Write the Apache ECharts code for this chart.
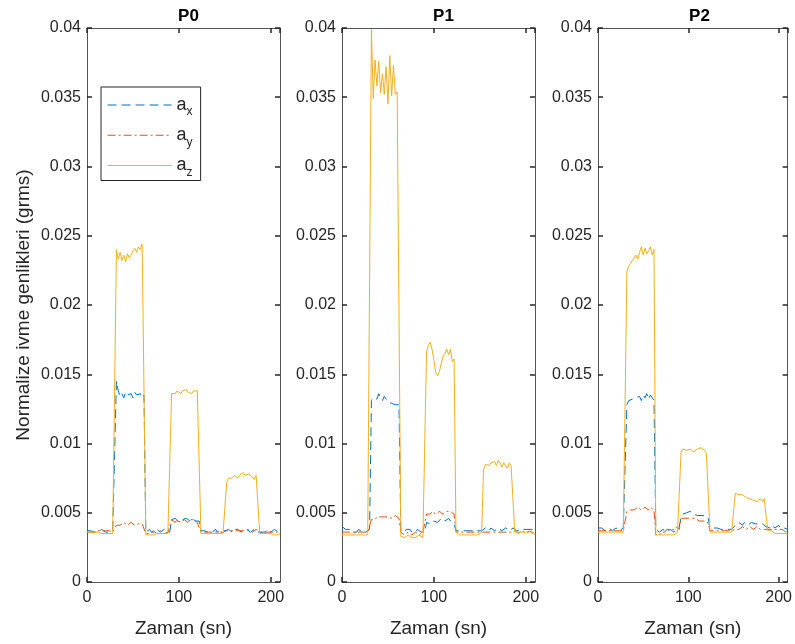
<!DOCTYPE html>
<html>
<head>
<meta charset="utf-8">
<script src="https://cdn.jsdelivr.net/npm/echarts@6/dist/echarts.min.js"></script>
<style>
  html, body { margin: 0; padding: 0; background: #fff; }
  #chart { width: 795px; height: 644px; }
</style>
</head>
<body>
<div id="chart"></div>
<script>
// time axis, seconds (2 s sampling)
const time = [
  0, 2, 4, 6, 8, 10, 12, 14, 16, 18, 20, 22, 24, 26, 28, 30,
  32, 34, 36, 38, 40, 42, 44, 46, 48, 50, 52, 54, 56, 58, 60, 62,
  64, 66, 68, 70, 72, 74, 76, 78, 80, 82, 84, 86, 88, 90,
  92, 94, 96, 98, 100, 102, 104, 106, 108, 110, 112, 114, 116, 118, 120, 122,
  124, 126, 128, 130, 132, 134, 136, 138, 140, 142, 144, 146, 148, 150,
  152, 154, 156, 158, 160, 162, 164, 166, 168, 170, 172, 174, 176, 178, 180, 182, 184, 186,
  188, 190, 192, 194, 196, 198, 200, 202, 204, 206, 208, 210
];

// amplitudes in units of 1e-4 grms
const p0_ax = [
  37, 36, 37, 38, 36, 37, 36, 37, 38, 37, 36, 37, 36, 37, 38, 37,
  145, 138, 134, 136, 133, 137, 135, 134, 136, 133, 137, 135, 134, 136, 133, 135,
  36, 37, 38, 36, 37, 36, 38, 37, 36, 37, 38, 36, 37, 36,
  45, 44, 46, 45, 43, 44, 45, 44, 46, 45, 44, 46, 45, 44, 45, 44,
  37, 36, 37, 38, 36, 37, 36, 37, 38, 36, 37, 37, 36, 37,
  37, 38, 37, 36, 38, 37, 38, 37, 36, 38, 37, 38, 37, 36, 37, 38, 37, 36,
  37, 36, 37, 36, 38, 37, 36, 37, 38, 37, 36, 37
];
const p0_ay = [
  36, 37, 36, 37, 36, 36, 37, 36, 37, 36, 37, 36, 37, 36, 36, 37,
  41, 42, 41, 42, 43, 42, 41, 42, 43, 42, 41, 42, 42, 43, 42, 42,
  35, 36, 35, 36, 37, 36, 35, 36, 37, 36, 35, 36, 36, 35,
  45, 44, 43, 45, 44, 43, 44, 45, 44, 43, 45, 44, 45, 44, 43, 44,
  36, 37, 36, 37, 36, 37, 36, 37, 36, 37, 36, 37, 36, 37,
  37, 36, 37, 38, 37, 36, 37, 38, 37, 36, 37, 37, 38, 37, 36, 37, 38, 37,
  36, 37, 36, 37, 36, 37, 36, 37, 36, 37, 36, 37
];
const p0_az = [
  36, 35, 36, 35, 36, 35, 36, 35, 35, 36, 35, 36, 35, 36, 35, 36,
  240, 233, 238, 232, 236, 231, 237, 234, 236, 239, 241, 238, 242, 240, 244, 245,
  34, 35, 34, 35, 34, 33, 35, 34, 35, 34, 35, 34, 35, 34,
  136, 137, 136, 138, 137, 136, 138, 137, 139, 137, 138, 136, 138, 137, 138, 137,
  35, 34, 35, 34, 35, 34, 35, 34, 35, 34, 35, 34, 35, 35,
  72, 75, 76, 75, 77, 76, 75, 77, 76, 79, 77, 76, 78, 77, 76, 74, 77, 76,
  35, 34, 35, 34, 35, 34, 35, 35, 34, 35, 34, 35
];

const p1_ax = [
  40, 39, 38, 37, 38, 37, 36, 37, 36, 38, 37, 36, 37, 36, 37, 38,
  131, 133, 134, 132, 136, 133, 131, 134, 132, 130, 131, 129, 130, 128, 129, 128,
  38, 37, 36, 38, 37, 38, 36, 37, 36, 38, 37, 36, 35, 36,
  43, 44, 42, 43, 44, 45, 43, 44, 46, 45, 44, 45, 46, 44, 43, 42,
  37, 36, 37, 36, 37, 36, 37, 36, 37, 36, 37, 36, 37, 36,
  37, 38, 39, 38, 37, 39, 38, 37, 38, 39, 38, 37, 38, 39, 38, 37, 38, 39,
  38, 37, 38, 37, 36, 38, 37, 38, 37, 38, 37, 38
];
const p1_ay = [
  36, 35, 36, 35, 36, 35, 36, 35, 36, 35, 36, 35, 36, 35, 36, 35,
  45, 46, 45, 47, 46, 47, 46, 47, 48, 47, 48, 46, 47, 48, 47, 46,
  36, 35, 34, 35, 36, 35, 34, 35, 36, 35, 34, 35, 36, 35,
  49, 50, 49, 51, 50, 49, 50, 51, 50, 49, 50, 51, 50, 51, 50, 49,
  36, 35, 36, 35, 36, 35, 36, 35, 36, 35, 36, 35, 36, 35,
  36, 35, 36, 37, 36, 35, 36, 37, 36, 35, 36, 37, 36, 35, 36, 37, 36, 35,
  37, 36, 35, 36, 37, 36, 35, 36, 37, 36, 35, 34
];
const p1_az = [
  34, 33, 34, 33, 34, 33, 34, 33, 34, 33, 34, 33, 34, 33, 34, 33,
  399, 349, 377, 358, 376, 353, 367, 352, 372, 345, 380, 351, 373, 352, 354, 354,
  33, 33, 32, 33, 34, 33, 32, 33, 32, 33, 34, 33, 32, 33,
  166, 171, 173, 168, 160, 151, 149, 152, 158, 163, 165, 168, 164, 168, 159, 161,
  36, 35, 34, 35, 34, 35, 34, 35, 34, 35, 34, 35, 34, 35,
  36, 81, 85, 86, 84, 86, 85, 87, 84, 88, 86, 83, 86, 85, 82, 86, 84, 83,
  36, 35, 36, 37, 36, 35, 36, 37, 36, 35, 36, 34
];

const p2_ax = [
  39, 38, 39, 38, 37, 38, 39, 38, 37, 38, 39, 38, 37, 38, 39, 38,
  128, 131, 130, 132, 131, 133, 132, 134, 131, 135, 133, 136, 132, 135, 133, 131,
  38, 37, 36, 37, 38, 37, 36, 37, 38, 37, 36, 37, 38, 40,
  47, 49, 48, 50, 49, 51, 50, 49, 50, 48, 49, 48, 47, 48, 47, 46,
  39, 38, 39, 38, 39, 40, 38, 39, 38, 39, 38, 39, 38, 39,
  41, 42, 43, 42, 41, 43, 42, 41, 42, 43, 44, 42, 41, 42, 43, 42, 41, 40,
  40, 39, 41, 40, 39, 40, 41, 39, 40, 39, 40, 38
];
const p2_ay = [
  37, 36, 37, 36, 37, 36, 37, 36, 37, 36, 37, 36, 37, 36, 37, 36,
  51, 52, 52, 53, 52, 53, 54, 53, 52, 53, 54, 53, 52, 54, 53, 52,
  34, 35, 34, 36, 37, 36, 38, 37, 38, 39, 38, 40, 39, 38,
  46, 47, 46, 45, 46, 47, 46, 45, 46, 45, 44, 45, 44, 43, 44, 42,
  37, 38, 37, 36, 37, 38, 37, 36, 37, 38, 37, 36, 37, 38,
  38, 39, 38, 39, 40, 39, 38, 39, 40, 39, 38, 39, 40, 39, 38, 39, 38, 39,
  38, 37, 38, 39, 38, 37, 38, 37, 38, 37, 36, 37
];
const p2_az = [
  36, 35, 36, 35, 36, 35, 36, 35, 36, 35, 36, 35, 36, 35, 36, 35,
  224, 228, 230, 232, 234, 236, 233, 238, 242, 236, 241, 237, 239, 242, 236, 240,
  34, 33, 34, 33, 34, 35, 34, 33, 34, 35, 34, 35, 36, 35,
  94, 96, 95, 95, 94, 96, 95, 94, 95, 96, 95, 97, 96, 95, 93, 92,
  36, 37, 36, 37, 36, 37, 36, 37, 36, 37, 36, 37, 36, 37,
  64, 65, 63, 62, 63, 62, 61, 62, 60, 61, 59, 60, 58, 59, 60, 58, 60, 60,
  37, 36, 37, 36, 35, 36, 35, 36, 35, 34, 35, 34
];

const panelTitles = ['P0', 'P1', 'P2'];
const panelData = [
  [p0_ax, p0_ay, p0_az],
  [p1_ax, p1_ay, p1_az],
  [p2_ax, p2_ay, p2_az]
];
const seriesNames = ['ax', 'ay', 'az'];
const seriesColors = ['#0072BD', '#D95319', '#EDB120'];
const seriesDash = [[9, 5], [8, 3, 2, 3], 'solid'];

const panelLeft = [87, 342, 598];
const panelWidth = 193;
const gridTop = 28;
const gridHeight = 554;
const font = '"Liberation Sans", Arial, sans-serif';
const ink = '#262626';

function pairs(vals) {
  return vals.map((v, i) => [time[i], v / 1e4]);
}

const grids = [], xAxes = [], yAxes = [], series = [], titles = [];
panelTitles.forEach((t, k) => {
  grids.push({ left: panelLeft[k], top: gridTop, width: panelWidth, height: gridHeight });
  titles.push({
    text: t,
    left: panelLeft[k] + panelWidth / 2,
    top: 3,
    textAlign: 'center',
    textStyle: { fontFamily: font, fontSize: 17, fontWeight: 'bold', color: '#000' }
  });
  const xBase = {
    type: 'value', gridIndex: k, min: 0, max: 210, interval: 100,
    splitLine: { show: false },
    axisLine: { show: true, onZero: false, lineStyle: { color: '#555', width: 1 } },
    axisTick: { inside: true, length: 5, lineStyle: { color: ink, width: 1.5 } }
  };
  xAxes.push(Object.assign({}, xBase, {
    position: 'bottom',
    name: 'Zaman (sn)', nameLocation: 'middle', nameGap: 37,
    nameTextStyle: { fontFamily: font, fontSize: 19, color: ink },
    axisLabel: { fontFamily: font, fontSize: 16, color: ink, margin: 8, showMaxLabel: false }
  }));
  xAxes.push(Object.assign({}, xBase, { position: 'top', axisLabel: { show: false } }));
  const yBase = {
    type: 'value', gridIndex: k, min: 0, max: 0.04, interval: 0.005,
    splitLine: { show: false },
    axisLine: { show: true, onZero: false, lineStyle: { color: '#555', width: 1 } },
    axisTick: { inside: true, length: 5, lineStyle: { color: ink, width: 1.5 } }
  };
  const yLeft = Object.assign({}, yBase, {
    position: 'left',
    axisLabel: { fontFamily: font, fontSize: 16, color: ink, margin: 6 }
  });
  if (k === 0) {
    yLeft.name = 'Normalize ivme genlikleri (grms)';
    yLeft.nameLocation = 'middle';
    yLeft.nameGap = 54;
    yLeft.nameTextStyle = { fontFamily: font, fontSize: 19, color: ink };
  }
  yAxes.push(yLeft);
  yAxes.push(Object.assign({}, yBase, { position: 'right', axisLabel: { show: false } }));

  panelData[k].forEach((vals, s) => {
    series.push({
      name: seriesNames[s],
      type: 'line',
      xAxisIndex: 2 * k,
      yAxisIndex: 2 * k,
      showSymbol: false,
      symbol: 'none',
      animation: false,
      lineStyle: { color: seriesColors[s], width: 1, type: seriesDash[s] },
      itemStyle: { color: seriesColors[s] },
      data: pairs(vals)
    });
  });
});

const chart = echarts.init(document.getElementById('chart'));
chart.setOption({
  backgroundColor: '#fff',
  animation: false,
  title: titles,
  grid: grids,
  xAxis: xAxes,
  yAxis: yAxes,
  legend: {
    data: seriesNames,
    orient: 'vertical',
    left: 101,
    top: 87,
    padding: [9, 8, 2, 6],
    itemWidth: 64,
    itemHeight: 14,
    itemGap: 8.25,
    backgroundColor: '#fff',
    borderColor: ink,
    borderWidth: 1,
    borderRadius: 0,
    itemStyle: { opacity: 0 },
    lineStyle: { width: 1.2 },
    formatter: (name) => '{b|a}{s|' + name.slice(1) + '}',
    textStyle: {
      color: ink,
      fontFamily: font,
      rich: {
        b: { fontSize: 18, lineHeight: 26, verticalAlign: 'middle', fontFamily: font, color: ink },
        s: { fontSize: 12, lineHeight: 12, verticalAlign: 'bottom', fontFamily: font, color: ink }
      }
    }
  },
  series: series
});
</script>
</body>
</html>
